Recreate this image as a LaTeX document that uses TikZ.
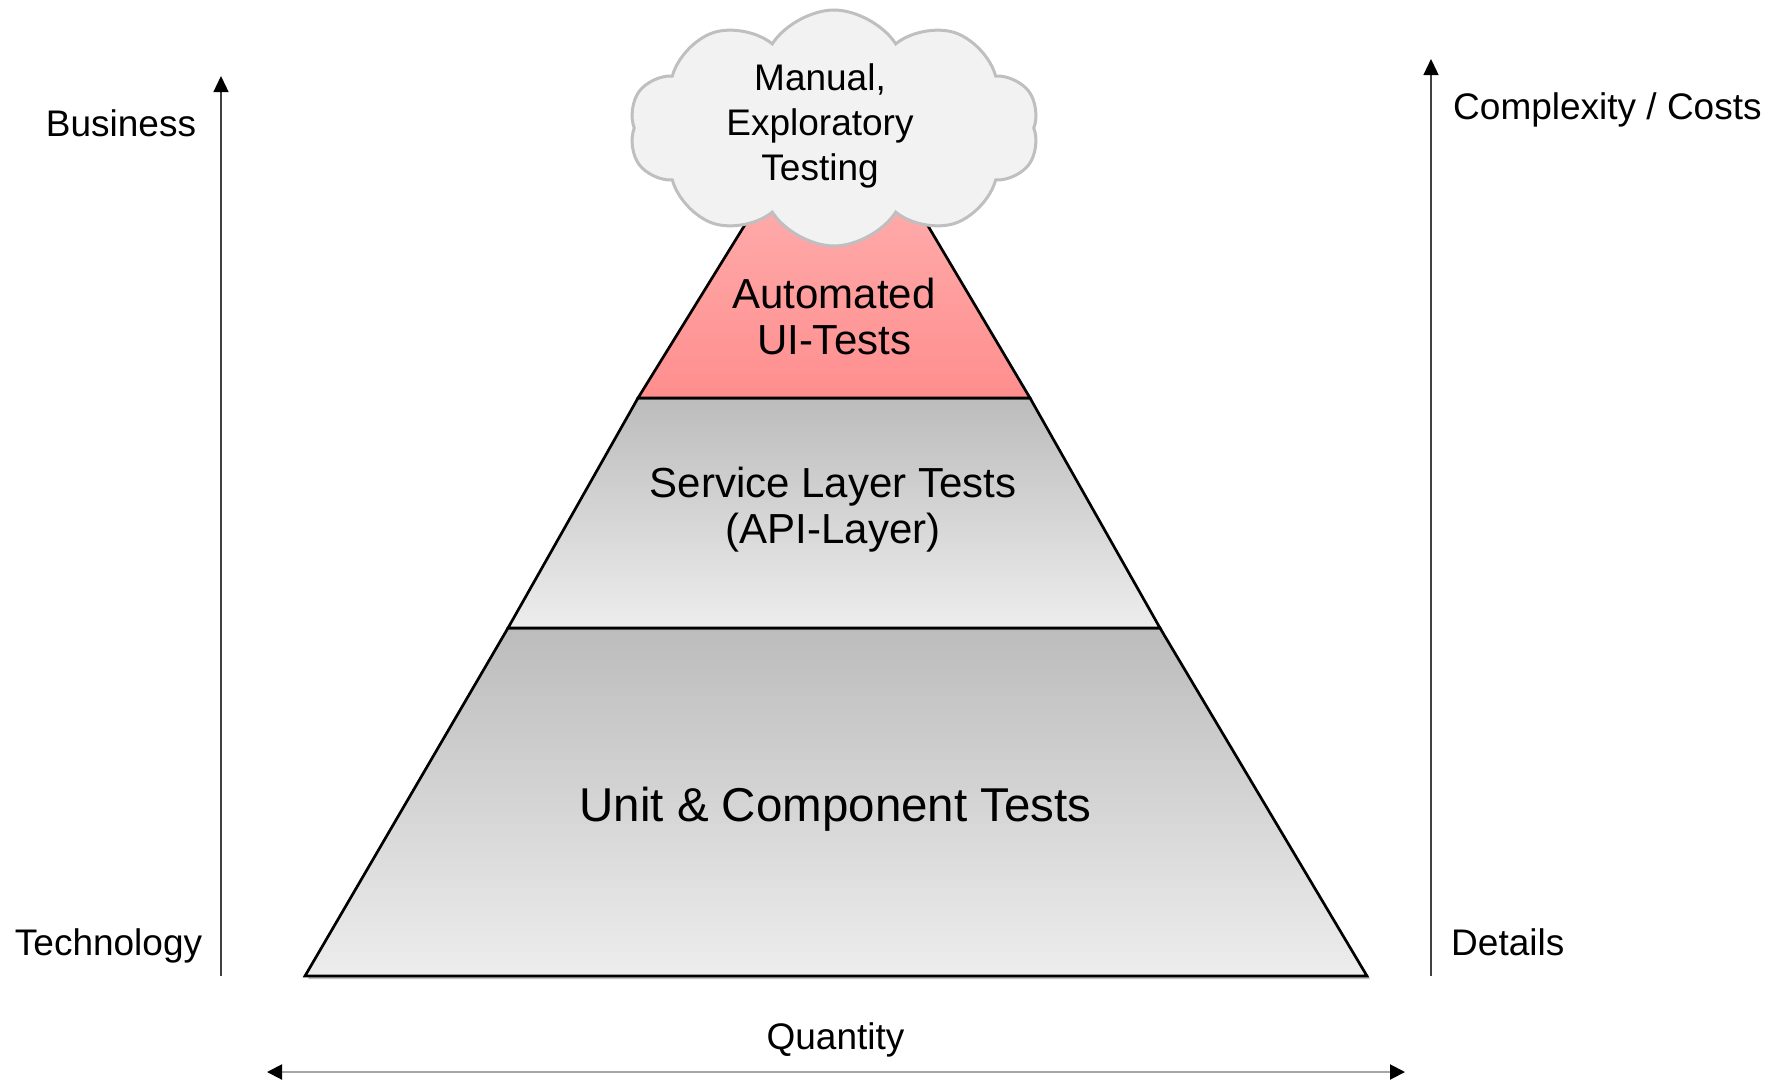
\documentclass[tikz,border=0pt]{standalone}
\usepackage{fontspec}
\setmainfont{Liberation Sans}
\usetikzlibrary{arrows.meta,shapes.symbols}
\definecolor{cloudfill}{HTML}{F2F2F2}
\definecolor{cloudline}{HTML}{BFBFBF}
\definecolor{graytop}{HTML}{BCBCBC}
\definecolor{graybot}{HTML}{EDEDED}
\definecolor{redtop}{HTML}{FFBDBD}
\definecolor{redbot}{HTML}{FF8E8E}
\definecolor{axisdark}{HTML}{404040}
\definecolor{axislight}{HTML}{A6A6A6}
\tikzset{
  layer/.style={draw=black, line width=2.7pt, line join=miter},
  graylayer/.style={layer, top color=graytop, bottom color=graybot},
  redlayer/.style={layer, top color=redtop, bottom color=redbot},
  lbl/.style={font=\fontsize{37}{45}\selectfont, inner sep=0pt, anchor=base},
  midlbl/.style={font=\fontsize{42}{46}\selectfont, inner sep=0pt, anchor=base},
  biglbl/.style={font=\fontsize{47.5}{54}\selectfont, inner sep=0pt, anchor=base},
  vaxis/.style={draw=axisdark, line width=1.3pt, -{Triangle[length=16pt,width=15pt,color=black]}},
  haxis/.style={draw=axislight, line width=2pt, {Triangle[length=15pt,width=15pt,color=black]}-{Triangle[length=15pt,width=15pt,color=black]}},
}
\begin{document}
\begin{tikzpicture}[x=1pt,y=-1pt]
\useasboundingbox (0,0) rectangle (1780,1079);
% shadow
\fill[black!25] (308,979) -- (1370,979) -- (1364,973) -- (311,973) -- cycle;
% layers
\path[graylayer] (305,976) -- (1367,976) -- (1160,628) -- (508,628) -- cycle;
\path[graylayer] (508,628) -- (1160,628) -- (1030,398) -- (638,398) -- cycle;
\path[redlayer] (638,398) -- (1030,398) -- (838,74) -- cycle;
% cloud
\node[cloud, cloud puffs=10, cloud puff arc=115, aspect=1.75, minimum width=410pt, minimum height=236pt,
      draw=cloudline, line width=3pt, fill=cloudfill, inner sep=0pt] (cloud) at (834,128) {};
% texts (base = last line)
\node[lbl, align=center] (manual) at (820,180) {Manual,\\Exploratory\\Testing};
\node[midlbl, align=center] (ui) at (834,354) {Automated\\UI-Tests};
\node[midlbl, align=center] (service) at (833,543) {Service Layer Tests\\(API-Layer)};
\node[biglbl] (unit) at (835.5,821) {Unit \& Component Tests};
\node[lbl] (business) at (121,136) {Business};
\node[lbl] (technology) at (108.5,955) {Technology};
\node[lbl, anchor=base west] (complexity) at (1453,119) {Complexity / Costs};
\node[lbl, anchor=base west] (details) at (1451,955) {Details};
\node[lbl] (quantity) at (835.5,1049) {Quantity};
% axes
\coordinate (lb) at (221,976);
\coordinate (lt) at (221,76);
\coordinate (rb) at (1431,976);
\coordinate (rt) at (1431,59);
\coordinate (ql) at (267,1072);
\coordinate (qr) at (1405,1072);
\draw[vaxis] (lb) -- (lt);
\draw[vaxis] (rb) -- (rt);
\draw[haxis] (ql) -- (qr);
\end{tikzpicture}
\end{document}
